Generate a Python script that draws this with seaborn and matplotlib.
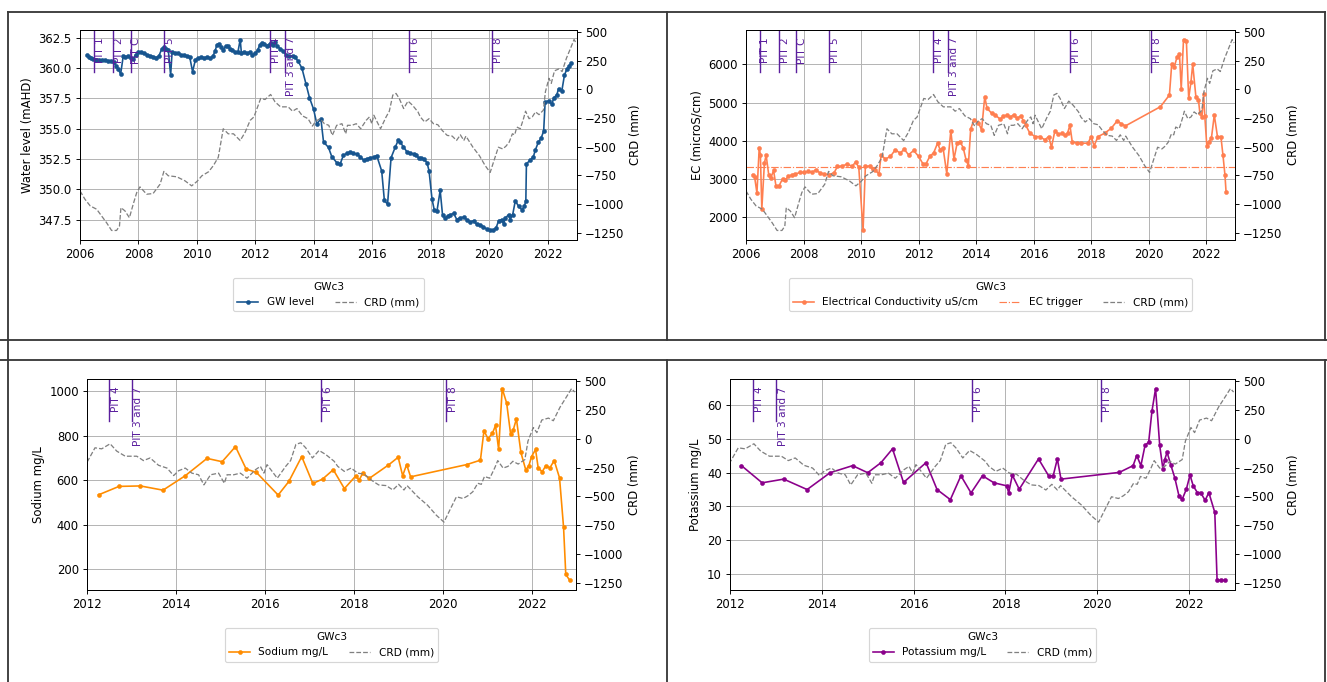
import numpy as np
import matplotlib
matplotlib.use("Agg")
import matplotlib.pyplot as plt
import matplotlib.transforms as mtransforms
from matplotlib.lines import Line2D
from matplotlib.ticker import FuncFormatter, MultipleLocator, FormatStrFormatter
import seaborn as sns

# ---------------- data ----------------
crd_year = [2006.00, 2006.17, 2006.35, 2006.57, 2006.74, 2006.91, 2007.08, 2007.25, 2007.35, 2007.40,
            2007.54, 2007.69, 2007.82, 2007.94, 2008.05, 2008.28, 2008.50, 2008.74, 2008.87, 2009.02,
            2009.31, 2009.59, 2009.82, 2010.00, 2010.17, 2010.40, 2010.56, 2010.73, 2010.90, 2011.07,
            2011.25, 2011.48, 2011.65, 2011.82, 2011.95, 2012.18, 2012.33, 2012.52, 2012.67, 2012.86,
            2013.12, 2013.27, 2013.42, 2013.61, 2013.80, 2013.95, 2014.06, 2014.21, 2014.36, 2014.51,
            2014.63, 2014.78, 2014.96, 2015.09, 2015.15, 2015.30, 2015.45, 2015.60, 2015.79, 2015.90,
            2015.98, 2016.05, 2016.28, 2016.47, 2016.58, 2016.70, 2016.81, 2016.92, 2017.07, 2017.22,
            2017.37, 2017.56, 2017.64, 2017.79, 2017.94, 2018.09, 2018.24, 2018.39, 2018.56, 2018.73,
            2018.88, 2019.01, 2019.13, 2019.20, 2019.44, 2019.66, 2019.86, 2020.03, 2020.16, 2020.31,
            2020.46, 2020.57, 2020.68, 2020.79, 2020.87, 2020.94, 2021.06, 2021.17, 2021.24, 2021.36,
            2021.47, 2021.58, 2021.70, 2021.85, 2021.92, 2022.04, 2022.12, 2022.23, 2022.38, 2022.49,
            2022.64, 2022.76, 2022.90, 2022.97]
crd_mm = [-885, -958, -1016, -1045, -1104, -1163, -1230, -1230, -1192, -1031,
          -1060, -1119, -1001, -900, -850, -914, -908, -826, -715, -753,
          -762, -797, -841, -803, -753, -718, -665, -592, -343, -387,
          -387, -446, -373, -270, -240, -79, -88, -44, -108, -152,
          -152, -190, -167, -231, -255, -320, -278, -255, -299, -313,
          -401, -313, -299, -387, -313, -313, -299, -343, -269, -240,
          -299, -225, -343, -240, -190, -49, -35, -79, -167, -102,
          -137, -196, -240, -284, -255, -299, -308, -358, -401, -407,
          -445, -396, -445, -407, -504, -577, -665, -724, -621, -504,
          -519, -495, -460, -387, -396, -328, -343, -255, -190, -255,
          -240, -196, -220, -181, -20, 97, 53, 162, 179, 156,
          273, 347, 435, 405]

gw_year = [2006.25, 2006.30, 2006.38, 2006.46, 2006.55, 2006.65, 2006.75, 2006.85, 2006.95, 2007.05,
           2007.15, 2007.23, 2007.31, 2007.39, 2007.48, 2007.55, 2007.65, 2007.75, 2007.82, 2007.90,
           2008.00, 2008.10, 2008.20, 2008.30, 2008.40, 2008.50, 2008.60, 2008.70, 2008.80, 2008.88,
           2008.95, 2009.02, 2009.10, 2009.15, 2009.25, 2009.35, 2009.45, 2009.55, 2009.65, 2009.75,
           2009.85, 2009.95, 2010.05, 2010.15, 2010.25, 2010.35, 2010.45, 2010.55, 2010.62, 2010.68,
           2010.75, 2010.82, 2010.90, 2010.98, 2011.05, 2011.12, 2011.20, 2011.30, 2011.40, 2011.48,
           2011.52, 2011.60, 2011.70, 2011.80, 2011.90, 2012.00, 2012.08, 2012.15, 2012.22, 2012.30,
           2012.38, 2012.45, 2012.52, 2012.60, 2012.68, 2012.75, 2012.85, 2012.95, 2013.05, 2013.15,
           2013.27, 2013.35, 2013.45, 2013.59, 2013.73, 2013.85, 2013.99, 2014.10, 2014.24, 2014.33,
           2014.50, 2014.61, 2014.78, 2014.90, 2015.01, 2015.12, 2015.24, 2015.35, 2015.47, 2015.58,
           2015.70, 2015.80, 2015.92, 2016.04, 2016.15, 2016.32, 2016.41, 2016.52, 2016.64, 2016.78,
           2016.89, 2016.95, 2017.06, 2017.18, 2017.30, 2017.41, 2017.50, 2017.58, 2017.67, 2017.75,
           2017.87, 2017.94, 2018.04, 2018.12, 2018.21, 2018.32, 2018.40, 2018.49, 2018.58, 2018.66,
           2018.78, 2018.89, 2019.00, 2019.12, 2019.23, 2019.35, 2019.46, 2019.57, 2019.69, 2019.80,
           2019.92, 2020.03, 2020.14, 2020.23, 2020.32, 2020.43, 2020.49, 2020.54, 2020.66, 2020.71,
           2020.80, 2020.89, 2021.00, 2021.12, 2021.20, 2021.25, 2021.27, 2021.40, 2021.51, 2021.57,
           2021.68, 2021.77, 2021.86, 2021.91, 2022.03, 2022.14, 2022.20, 2022.31, 2022.37, 2022.48,
           2022.57, 2022.65, 2022.74, 2022.81]
gw_level = [361.05, 360.95, 360.85, 360.75, 360.70, 360.70, 360.65, 360.65, 360.60, 360.60,
            360.50, 360.20, 359.90, 359.50, 361.00, 360.90, 361.00, 360.80, 360.75, 361.10,
            361.35, 361.30, 361.20, 361.10, 361.00, 360.95, 360.85, 361.00, 361.60, 361.75,
            361.60, 361.50, 359.40, 361.30, 361.25, 361.20, 361.10, 361.05, 361.00, 360.95,
            359.70, 360.70, 360.80, 360.90, 360.85, 360.90, 360.80, 361.00, 361.40, 361.90,
            362.00, 361.70, 361.50, 361.80, 361.85, 361.60, 361.45, 361.35, 361.30, 362.35,
            361.25, 361.30, 361.20, 361.30, 361.10, 361.20, 361.50, 361.90, 362.10, 362.00,
            361.85, 361.90, 362.10, 361.90, 362.15, 361.80, 361.60, 361.40, 361.05, 361.00,
            361.00, 360.90, 360.60, 360.00, 358.70, 357.55, 356.60, 355.40, 355.80, 353.90,
            353.45, 352.70, 352.20, 352.10, 352.80, 352.95, 353.05, 352.95, 352.90, 352.70,
            352.40, 352.50, 352.60, 352.65, 352.77, 351.50, 349.10, 348.75, 352.60, 353.45,
            354.07, 353.90, 353.50, 353.10, 353.00, 352.90, 352.80, 352.60, 352.55, 352.50,
            352.20, 351.50, 349.20, 348.26, 348.20, 349.90, 347.90, 347.60, 347.80, 347.90,
            348.00, 347.50, 347.65, 347.70, 347.50, 347.30, 347.40, 347.10, 347.05, 346.90,
            346.70, 346.60, 346.65, 346.80, 347.40, 347.50, 347.10, 347.60, 347.90, 347.50,
            347.90, 349.05, 348.60, 348.30, 348.60, 349.05, 352.10, 352.40, 352.70, 353.20,
            353.90, 354.20, 354.80, 357.20, 357.30, 357.00, 357.50, 357.80, 358.30, 358.10,
            359.40, 359.90, 360.20, 360.40]

ec_year = [2006.23, 2006.30, 2006.38, 2006.46, 2006.50, 2006.55, 2006.64, 2006.70, 2006.79, 2006.86,
           2006.96, 2007.04, 2007.15, 2007.27, 2007.35, 2007.47, 2007.60, 2007.72, 2007.88, 2008.02,
           2008.15, 2008.31, 2008.42, 2008.57, 2008.71, 2008.88, 2009.06, 2009.18, 2009.35, 2009.52,
           2009.69, 2009.81, 2009.92, 2010.07, 2010.15, 2010.30, 2010.40, 2010.50, 2010.62, 2010.70,
           2010.84, 2011.02, 2011.19, 2011.36, 2011.50, 2011.65, 2011.83, 2012.00, 2012.15, 2012.26,
           2012.40, 2012.52, 2012.66, 2012.75, 2012.85, 2012.98, 2013.12, 2013.23, 2013.34, 2013.44,
           2013.55, 2013.65, 2013.73, 2013.81, 2013.92, 2014.08, 2014.19, 2014.30, 2014.38, 2014.54,
           2014.66, 2014.84, 2014.95, 2015.07, 2015.18, 2015.30, 2015.42, 2015.56, 2015.64, 2015.72,
           2015.87, 2016.05, 2016.22, 2016.39, 2016.52, 2016.62, 2016.74, 2016.86, 2016.99, 2017.08,
           2017.18, 2017.26, 2017.34, 2017.50, 2017.66, 2017.89, 2018.00, 2018.10, 2018.24, 2018.47,
           2018.70, 2018.91, 2019.05, 2019.19, 2020.41, 2020.72, 2020.80, 2020.89, 2020.98, 2021.07,
           2021.13, 2021.21, 2021.31, 2021.39, 2021.47, 2021.53, 2021.64, 2021.73, 2021.78, 2021.85,
           2021.91, 2021.95, 2022.02, 2022.10, 2022.18, 2022.28, 2022.39, 2022.51, 2022.58, 2022.65,
           2022.69]
ec_value = [3110, 3050, 2630, 3823, 3632, 2214, 3415, 3624, 3110, 3023,
            3222, 2822, 2822, 3000, 2960, 3065, 3110, 3130, 3170, 3170,
            3195, 3170, 3240, 3160, 3130, 3110, 3160, 3327, 3340, 3390,
            3330, 3441, 3310, 1650, 3330, 3340, 3250, 3230, 3130, 3632,
            3519, 3590, 3763, 3676, 3780, 3632, 3745, 3590, 3397, 3400,
            3605, 3676, 3937, 3763, 3820, 3136, 4259, 3519, 3937, 3980,
            3820, 3500, 3345, 4303, 4546, 4475, 4285, 5154, 4851, 4720,
            4676, 4564, 4650, 4670, 4620, 4676, 4590, 4650, 4527, 4415,
            4198, 4110, 4110, 4023, 4110, 3833, 4266, 4170, 4198, 4140,
            4198, 4415, 3980, 3937, 3937, 3937, 4110, 3867, 4110, 4198,
            4329, 4527, 4440, 4389, 4893, 5198, 6008, 5937, 6183, 6270,
            5347, 6652, 6616, 5111, 5546, 6008, 5154, 5068, 4720, 4620,
            5216, 4650, 3867, 3980, 4068, 4676, 4110, 4110, 3632, 3110,
            2648]
ec_trigger = 3300

na_year = [2012.26, 2012.72, 2013.20, 2013.71, 2014.21, 2014.70, 2015.04, 2015.34, 2015.58, 2015.81,
           2016.30, 2016.54, 2016.83, 2017.08, 2017.30, 2017.54, 2017.79, 2018.05, 2018.12, 2018.20,
           2018.35, 2018.78, 2019.00, 2019.10, 2019.19, 2019.28, 2020.54, 2020.85, 2020.93, 2021.02,
           2021.12, 2021.19, 2021.26, 2021.34, 2021.44, 2021.53, 2021.59, 2021.66, 2021.76, 2021.87,
           2021.94, 2022.00, 2022.09, 2022.15, 2022.24, 2022.32, 2022.41, 2022.51, 2022.63, 2022.72,
           2022.77, 2022.86]
na_value = [534, 572, 574, 555, 620, 698, 683, 751, 650, 635,
            533, 594, 706, 585, 605, 647, 562, 620, 600, 630,
            608, 668, 703, 620, 670, 615, 670, 690, 823, 786,
            811, 846, 738, 1012, 947, 806, 827, 876, 725, 646,
            665, 706, 738, 655, 638, 665, 655, 688, 610, 389,
            176, 149]

k_year = [2012.25, 2012.70, 2013.17, 2013.68, 2014.18, 2014.67, 2015.00, 2015.29, 2015.54, 2015.78,
          2016.27, 2016.51, 2016.80, 2017.03, 2017.25, 2017.50, 2017.75, 2018.03, 2018.07, 2018.15,
          2018.30, 2018.72, 2018.94, 2019.04, 2019.13, 2019.21, 2020.48, 2020.78, 2020.86, 2020.95,
          2021.04, 2021.12, 2021.19, 2021.27, 2021.36, 2021.43, 2021.47, 2021.52, 2021.60, 2021.69,
          2021.78, 2021.85, 2021.94, 2022.02, 2022.09, 2022.18, 2022.25, 2022.35, 2022.43, 2022.56,
          2022.61, 2022.70, 2022.78]
k_value = [42.1, 37.0, 38.1, 35.0, 40.0, 42.1, 40.0, 43.0, 47.1, 37.1,
           43.0, 35.0, 32.0, 39.1, 34.0, 39.1, 37.0, 36.1, 34.0, 39.3,
           35.1, 44.1, 39.1, 39.1, 44.1, 38.1, 40.1, 42.1, 45.1, 42.1,
           48.1, 49.1, 58.2, 65.0, 48.1, 41.1, 43.9, 46.1, 42.4, 38.4,
           33.1, 32.1, 35.1, 39.3, 36.1, 34.1, 34.1, 31.8, 34.1, 28.2,
           8.0, 8.0, 8.0]

pit_names = ["PIT 1", "PIT 2", "PIT C", "PIT 5", "PIT 4", "PIT 3 and 7", "PIT 6", "PIT 8"]
pit_years = [2006.47, 2007.14, 2007.73, 2008.88, 2012.50, 2013.01, 2017.27, 2020.08]

bore_name = "GWc3"

# ---------------- figure ----------------
W, H, DPI = 1327, 682, 84
fig = plt.figure(figsize=(W / DPI, H / DPI), dpi=DPI)
fig.patch.set_facecolor("white")

PIT_COLOR = "#5b1f9e"
CRD_COLOR = "grey"


def rect(l, t, r, b):
    return [l / W, 1 - b / H, (r - l) / W, (b - t) / H]


def fig_line(x0, y0, x1, y1):
    fig.add_artist(Line2D([x0 / W, x1 / W], [1 - y0 / H, 1 - y1 / H], transform=fig.transFigure,
                          color="#3a3a3a", linewidth=1.6))


def make_panel(box, xstart, series_year, series_val, color, label, ylabel, trigger=None):
    ax = fig.add_axes(rect(*box))
    sns.lineplot(x=series_year, y=series_val, ax=ax, color=color, marker="o", markersize=3.4,
                 markeredgecolor=color, markeredgewidth=0.5, linewidth=1.4, label=label, legend=False)
    main_line = ax.lines[-1]
    handles = [main_line]
    if trigger is not None:
        tl = ax.axhline(trigger, color=color, linestyle="-.", linewidth=1.0, label="EC trigger")
        handles.append(tl)
    ax.grid(True, color="#b0b0b0", linewidth=0.8)
    ax.set_ylabel(ylabel, fontsize=10)
    ax.set_xlabel("")
    # PIT markers
    trans = mtransforms.blended_transform_factory(ax.transData, ax.transAxes)
    for nm, yr in zip(pit_names, pit_years):
        if xstart <= yr <= 2023:
            ax.axvline(yr, ymin=0.8, ymax=1.0, color=PIT_COLOR, linewidth=1.2)
            ax.text(yr + 0.03, 0.965, nm, transform=trans, rotation=90, ha="left", va="top",
                    fontsize=9, color=PIT_COLOR, clip_on=True)
    ax2 = ax.twinx()
    sns.lineplot(x=crd_year, y=crd_mm, ax=ax2, color=CRD_COLOR, linestyle="--", linewidth=1.1,
                 label="CRD (mm)", legend=False)
    handles.append(ax2.lines[-1])
    ax2.set_ylabel("CRD (mm)", fontsize=10)
    ax2.set_xlabel("")
    ax.set_xlim(xstart, 2023)
    ax.set_xticks(np.arange(xstart, 2023, 2))
    ax.xaxis.set_major_formatter(FuncFormatter(lambda v, p: f"{int(round(v))}"))
    ax.tick_params(labelsize=10)
    ax2.tick_params(labelsize=10)
    ax2.legend(handles, [h.get_label() for h in handles], title=bore_name, loc="upper center",
               bbox_to_anchor=(0.5, -0.155), ncol=len(handles), fontsize=9, title_fontsize=9,
               frameon=True)
    return ax, ax2


ax_gw, _ = make_panel((80, 30, 577, 240), 2006, gw_year, gw_level, "#17558f", "GW level",
                      "Water level (mAHD)")
ax_gw.yaxis.set_major_locator(MultipleLocator(2.5))
ax_gw.yaxis.set_major_formatter(FormatStrFormatter("%.1f"))
make_panel((746, 30, 1235, 240), 2006, ec_year, ec_value, "coral", "Electrical Conductivity uS/cm",
           "EC (microS/cm)", trigger=ec_trigger)
make_panel((87, 379, 576, 590), 2012, na_year, na_value, "darkorange", "Sodium mg/L", "Sodium mg/L")
make_panel((730, 379, 1235, 590), 2012, k_year, k_value, "darkmagenta", "Potassium mg/L", "Potassium mg/L")

# table borders
fig_line(8, 12, 1325, 12)
fig_line(8, 12, 8, 340)
fig_line(667, 12, 667, 340)
fig_line(1325, 12, 1325, 340)
fig_line(0, 340, 1327, 340)
fig_line(0, 360, 1327, 360)
fig_line(8, 340, 8, 682)
fig_line(667, 360, 667, 682)
fig_line(1325, 360, 1325, 682)

fig.savefig("out.png", dpi=DPI, facecolor="white")
